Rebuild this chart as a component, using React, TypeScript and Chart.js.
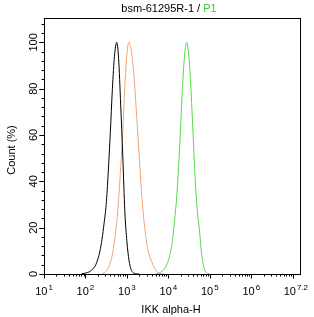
import React, { useEffect, useRef } from 'react';
import { Chart, registerables } from 'chart.js';

Chart.register(...registerables);

// Histogram curves: x positions are log10(fluorescence), y is Count (%)
const blackLog = [1.9, 2.0, 2.1, 2.2, 2.25, 2.3, 2.35, 2.4, 2.45, 2.5, 2.55, 2.6, 2.65, 2.7, 2.754, 2.8, 2.85, 2.9, 2.95, 3.0, 3.05, 3.1, 3.15, 3.2, 3.3];
const blackCount = [0, 0.4, 1.0, 2.6, 4, 6.5, 10, 15, 22, 30, 44, 61, 80, 94, 100, 93, 73, 51, 27, 14, 6, 2, 0.6, 0.1, 0];

const orangeLog = [2.4, 2.5, 2.55, 2.6, 2.65, 2.7, 2.75, 2.8, 2.85, 2.9, 2.95, 3.0, 3.051, 3.1, 3.15, 3.2, 3.25, 3.3, 3.35, 3.4, 3.45, 3.5, 3.55, 3.6, 3.65, 3.7, 3.75, 3.8, 3.9];
const orangeCount = [0, 1.2, 2.5, 5, 8.5, 14, 21.5, 32, 46, 61, 81, 95, 100, 97, 89.5, 78, 64, 50, 36, 25, 17, 11, 7.5, 5.2, 3.2, 1.6, 0.5, 0.1, 0];

const greenLog = [3.7, 3.75, 3.8, 3.85, 3.9, 3.95, 4.0, 4.05, 4.1, 4.15, 4.2, 4.25, 4.3, 4.35, 4.4, 4.442, 4.5, 4.55, 4.6, 4.65, 4.7, 4.75, 4.8, 4.85, 4.9, 4.95, 5.0];
const greenCount = [0, 0.2, 0.6, 1.2, 2.1, 3.5, 5.8, 9.3, 14.8, 23, 33, 47, 65, 83.5, 96, 100, 93, 78, 59, 40, 27, 19, 9, 3.5, 1.0, 0.2, 0];

// Axis definitions
const xMajorExps = [1, 2, 3, 4, 5, 6, 7];
const xEndExp = 7.2;
const xLabelExps = ['1', '2', '3', '4', '5', '6', '7.2'];
const xLabelAt = [1, 2, 3, 4, 5, 6, 7.2];
const yMajor = [0, 20, 40, 60, 80, 100];
const yMinorStep = 4;
const yMax = 110.5;

const titleMain = 'bsm-61295R-1 / ';
const titleGate = 'P1';
const xTitle = 'IKK alpha-H';
const yTitle = 'Count (%)';

const COLOR_BLACK = '#000000';
const COLOR_ORANGE = '#f2a470';
const COLOR_GREEN = '#5ad84a';
const FONT = '"Liberation Sans", Arial, sans-serif';

export default function App() {
  const ref = useRef<HTMLCanvasElement>(null);

  useEffect(() => {
    const canvas = ref.current;
    if (!canvas) return;
    const toPts = (xs: number[], ys: number[]) => xs.map((e, i) => ({ x: Math.pow(10, e), y: ys[i] }));

    const axesPlugin = {
      id: 'fcsAxes',
      afterDraw(chart: any) {
        const ctx = chart.ctx as CanvasRenderingContext2D;
        const { left, right, top, bottom } = chart.chartArea;
        const xs = chart.scales.x;
        const ys = chart.scales.y;
        ctx.save();
        ctx.strokeStyle = '#000';
        ctx.lineWidth = 1;
        // box
        ctx.strokeRect(Math.round(left) + 0.5, Math.round(top) + 0.5, Math.round(right - left) - 1, Math.round(bottom - top));
        const by = Math.round(bottom) + 0.5;
        const lx = Math.round(left) + 0.5;
        ctx.beginPath();
        // x ticks
        for (const e of xMajorExps) {
          const px = Math.round(xs.getPixelForValue(Math.pow(10, e))) + 0.5;
          ctx.moveTo(px, by);
          ctx.lineTo(px, by + 4);
          for (let m = 2; m <= 9; m++) {
            const v = m * Math.pow(10, e);
            if (Math.log10(v) > xEndExp) continue;
            const mx = Math.round(xs.getPixelForValue(v)) + 0.5;
            ctx.moveTo(mx, by);
            ctx.lineTo(mx, by + 2);
          }
        }
        // y ticks
        for (let v = 0; v <= yMax; v += yMinorStep) {
          const py = Math.round(ys.getPixelForValue(v)) + 0.5;
          const major = yMajor.includes(v);
          ctx.moveTo(lx, py);
          ctx.lineTo(lx - (major ? 5 : 3), py);
        }
        for (const v of yMajor) {
          const py = Math.round(ys.getPixelForValue(v)) + 0.5;
          ctx.moveTo(lx, py);
          ctx.lineTo(lx - 5, py);
        }
        ctx.stroke();

        // x labels
        ctx.fillStyle = '#000';
        ctx.textBaseline = 'alphabetic';
        xLabelAt.forEach((e, i) => {
          const px = xs.getPixelForValue(Math.pow(10, e));
          ctx.font = `11px ${FONT}`;
          const w1 = ctx.measureText('10').width;
          ctx.font = `8px ${FONT}`;
          const w2 = ctx.measureText(xLabelExps[i]).width;
          const total = w1 + 1 + w2;
          let start = px - total / 2;
          if (start + total > chart.width - 6) start = chart.width - 6 - total;
          ctx.textAlign = 'left';
          ctx.font = `11px ${FONT}`;
          ctx.fillText('10', start, 295);
          ctx.font = `8px ${FONT}`;
          ctx.fillText(xLabelExps[i], start + w1 + 1, 290);
        });

        // y labels rotated
        ctx.font = `11px ${FONT}`;
        ctx.textAlign = 'center';
        ctx.textBaseline = 'middle';
        for (const v of yMajor) {
          const py = ys.getPixelForValue(v);
          ctx.save();
          ctx.translate(34, py);
          ctx.rotate(-Math.PI / 2);
          ctx.fillText(String(v), 0, 0);
          ctx.restore();
        }

        // axis titles
        ctx.font = `11px ${FONT}`;
        ctx.textAlign = 'center';
        ctx.textBaseline = 'alphabetic';
        ctx.fillText(xTitle, 171, 313);
        ctx.save();
        ctx.translate(15, 150);
        ctx.rotate(-Math.PI / 2);
        ctx.fillText(yTitle, 0, 0);
        ctx.restore();

        // title
        ctx.font = `11px ${FONT}`;
        ctx.textAlign = 'left';
        const tw1 = ctx.measureText(titleMain).width;
        const tw2 = ctx.measureText(titleGate).width;
        const tStart = 169 - (tw1 + tw2) / 2;
        ctx.fillStyle = '#000';
        ctx.fillText(titleMain, tStart, 12);
        ctx.fillStyle = '#3cc83c';
        ctx.fillText(titleGate, tStart + tw1, 12);
        ctx.restore();
      },
    };

    const chart = new Chart(canvas, {
      type: 'line',
      data: {
        datasets: [
          { data: toPts(blackLog, blackCount), borderColor: COLOR_BLACK, borderWidth: 1, pointRadius: 0, fill: false, cubicInterpolationMode: 'monotone' },
          { data: toPts(orangeLog, orangeCount), borderColor: COLOR_ORANGE, borderWidth: 1, pointRadius: 0, fill: false, cubicInterpolationMode: 'monotone' },
          { data: toPts(greenLog, greenCount), borderColor: COLOR_GREEN, borderWidth: 1, pointRadius: 0, fill: false, cubicInterpolationMode: 'monotone' },
        ],
      },
      options: {
        responsive: false,
        animation: false,
        parsing: false,
        layout: { padding: { left: 44, right: 13, top: 18, bottom: 43 } },
        plugins: { legend: { display: false }, tooltip: { enabled: false }, title: { display: false } },
        scales: {
          x: { type: 'logarithmic', min: 10, max: Math.pow(10, xEndExp), display: false },
          y: { type: 'linear', min: 0, max: yMax, display: false },
        },
      } as any,
      plugins: [axesPlugin],
    });
    return () => chart.destroy();
  }, []);

  return (
    <div style={{ position: 'absolute', left: 0, top: 0, width: 314, height: 317, background: '#fff' }}>
      <canvas ref={ref} width={314} height={317} style={{ display: 'block', width: 314, height: 317 }} />
    </div>
  );
}
